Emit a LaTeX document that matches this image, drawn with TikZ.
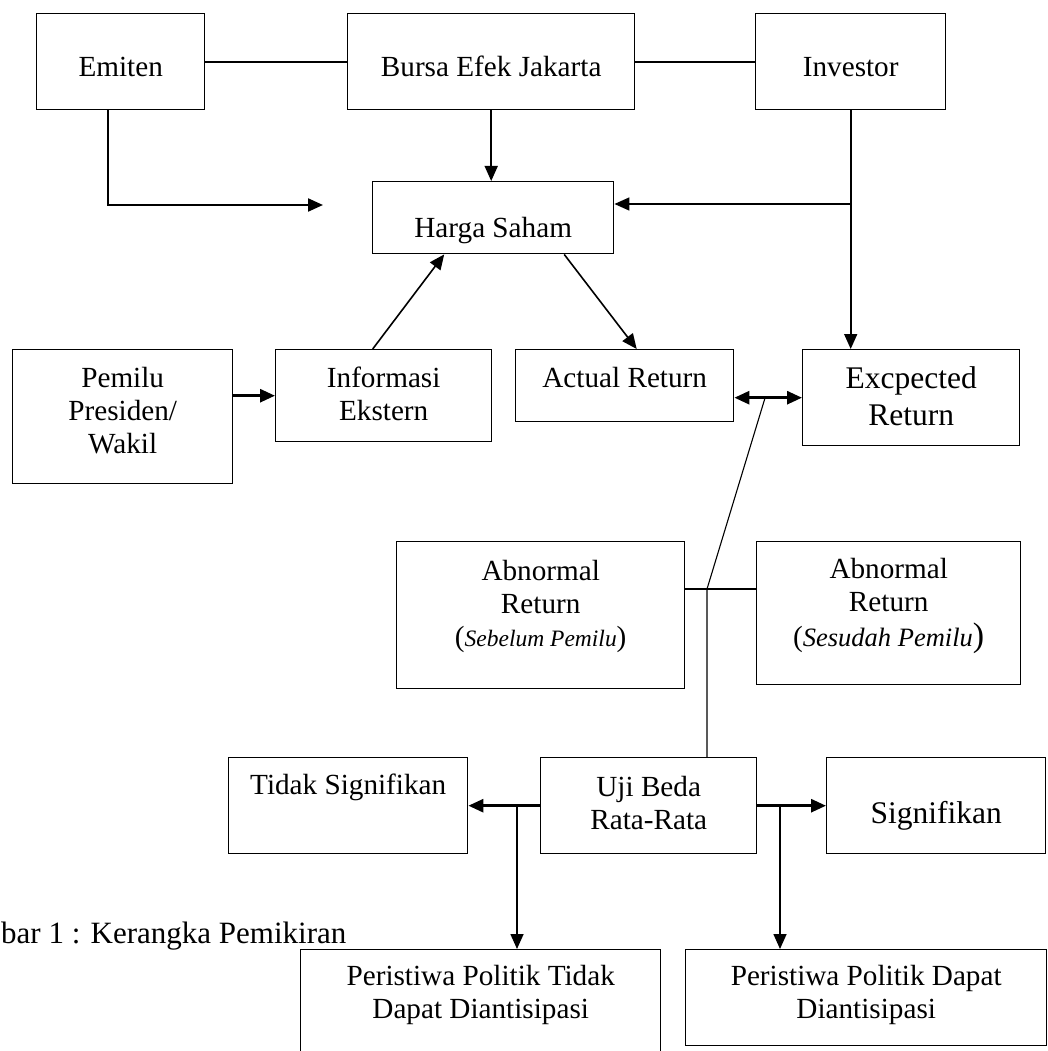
\documentclass[tikz,border=0pt]{standalone}
\usepackage{fontspec}
\setmainfont{Liberation Serif}
\usetikzlibrary{arrows.meta}

\begin{document}
\begin{tikzpicture}[
  x=1pt, y=-1pt,
  >={Triangle[length=15pt, width=13pt]},
  font=\fontsize{29.2}{33}\selectfont,
  box/.style={draw=black, line width=1.4pt, inner sep=0pt,
              align=flush center, anchor=north west},
  boxsize/.style n args={3}{text width=#1pt, text height=#2pt, text depth=#3pt},
  bigtext/.style={font=\fontsize{31.5}{37}\selectfont},
  link/.style={draw=black, line width=1.8pt},
  flow/.style={->, draw=black, line width=1.6pt},
  flowbold/.style={->, draw=black, line width=2.8pt},
  thinline/.style={draw=black, line width=1.1pt}
]
\useasboundingbox (0,0) rectangle (1048,1051);

% ==================== Boxes ====================
\node[box, boxsize={168}{63}{33}] (emiten)   at (36,13)  {Emiten};
\node[box, boxsize={287}{63}{33}] (bursa)    at (347,13) {Bursa Efek Jakarta};
\node[box, boxsize={190}{63}{33}] (investor) at (755,13) {Investor};

\node[box, boxsize={241}{56}{16}] (harga) at (372,181) {Harga Saham};

\node[box, boxsize={220}{38}{96}] (pemilu)    at (12,349)  {Pemilu\\Presiden/\\Wakil};
\node[box, boxsize={216}{38}{54}] (informasi) at (275,349) {Informasi\\Ekstern};
\node[box, boxsize={218}{38}{34}] (actual)    at (515,349) {Actual Return};
\node[box, bigtext, boxsize={217}{39}{57}] (expected) at (802,349) {Excpected\\Return};

\node[box, boxsize={288}{39}{108}] (abnsebelum) at (396,541)
  {Abnormal\\Return\\({\fontsize{23.5}{33}\selectfont\itshape Sebelum Pemilu})};
\node[box, boxsize={264}{37}{106}] (abnsesudah) at (756,541)
  {Abnormal\\Return\\[2pt]({\fontsize{26.5}{33}\selectfont\itshape Sesudah Pemilu}{\fontsize{34}{33}\selectfont)}};

\node[box, boxsize={239}{37}{59}] (tidaksig) at (228,757) {Tidak Signifikan};
\node[box, boxsize={216}{39}{57}] (uji)      at (540,757) {Uji Beda\\Rata-Rata};
\node[box, bigtext, boxsize={219}{66}{30}] (signifikan) at (826,757) {Signifikan};

\node[box, boxsize={360}{36}{68}] (ptidak) at (300,949) {Peristiwa Politik Tidak\\Dapat Diantisipasi};
\node[box, boxsize={361}{36}{60}] (pdapat) at (685,949) {Peristiwa Politik Dapat\\Diantisipasi};

\node[anchor=base west, inner sep=0pt, font=\fontsize{31}{36}\selectfont] (caption) at (1,943)
  {bar 1 : Kerangka Pemikiran};

% ==================== Junction points ====================
\coordinate (emitenend) at (323,205);
\coordinate (invjoin)   at (850,204);
\coordinate (dblmid)    at (765,398);
\coordinate (abnjoin)   at (707,589);
\coordinate (brleft)    at (517,805);
\coordinate (brright)   at (780,805);

% ==================== Connectors ====================
\draw[link] (emiten.east) -- (bursa.west);
\draw[link] (bursa.east) -- (investor.west);

\draw[flow] (bursa.south) -- (bursa.south |- harga.north);
\draw[flow, line width=2.2pt] ([xshift=-13pt]emiten.south) |- (emitenend);
\draw[flow] (investor.south) -- (investor.south |- expected.north);
\draw[flow] (invjoin) -- (invjoin -| harga.east);

\draw[flow] ([xshift=-11pt]informasi.north) -- ([xshift=-49pt]harga.south);
\draw[flow] ([xshift=71pt]harga.south) -- ([xshift=12pt]actual.north);

\draw[flowbold] (informasi.west -| pemilu.east) -- (informasi.west);
\draw[flowbold, <->] (expected.west -| actual.east) -- (expected.west);

% abnormal return to test
\draw[thinline] (dblmid) -- (abnjoin) -- (abnjoin |- uji.north);
\draw[thinline] (abnjoin -| abnsebelum.east) -- (abnjoin -| abnsesudah.west);

% test outcomes
\draw[flowbold] (uji.west) -- (tidaksig.east);
\draw[flowbold] (uji.east) -- (signifikan.west);
\draw[flow] (brleft) -- (brleft |- ptidak.north);
\draw[flow] (brright) -- (brright |- pdapat.north);

\end{tikzpicture}
\end{document}
